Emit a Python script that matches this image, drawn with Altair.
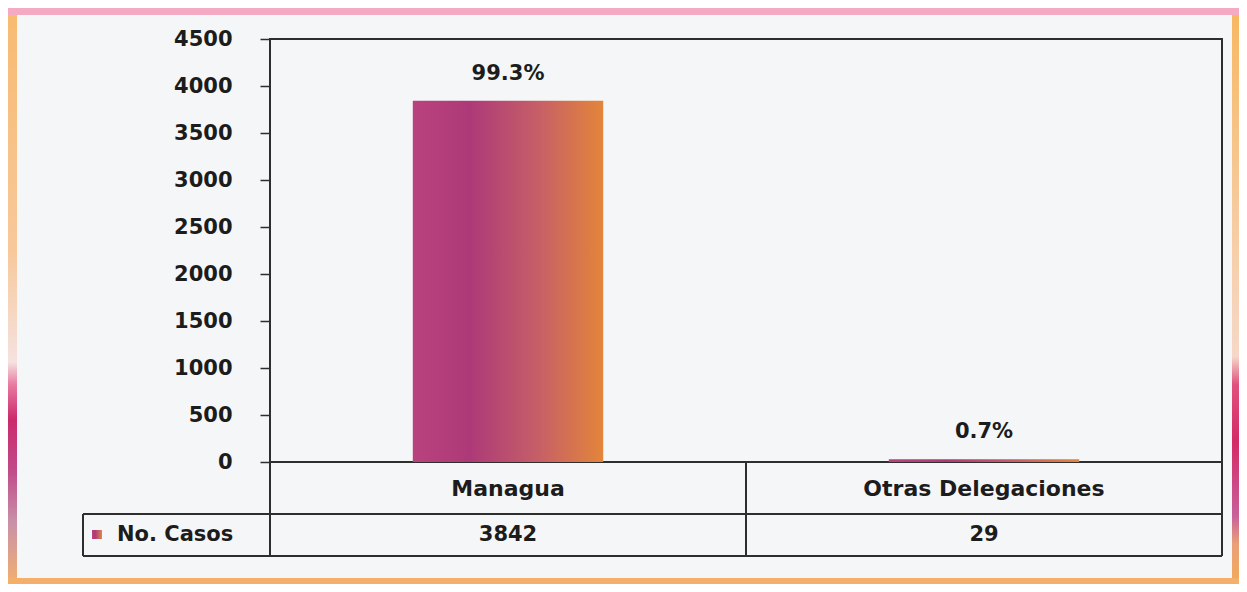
import altair as alt
import pandas as pd

# ---- data ----
categories = ["Managua", "Otras Delegaciones"]
casos = [3842, 29]
porcentajes = ["99.3%", "0.7%"]
series_name = ["No. Casos"]
y_ticks = [0, 500, 1000, 1500, 2000, 2500, 3000, 3500, 4000, 4500]

df = pd.DataFrame({"cat": categories, "casos": casos, "pct": porcentajes})
one = pd.DataFrame({"k": [0]})
name_df = pd.DataFrame({"name": series_name})

W, H = 952, 423
FONT = "DejaVu Sans"
TXT = "#1c1c1c"
LINE = "#2e2e2e"

bar_grad = alt.Gradient(
    gradient="linear",
    stops=[
        alt.GradientStop(offset=0, color="#b9427e"),
        alt.GradientStop(offset=0.3, color="#ad3a78"),
        alt.GradientStop(offset=0.65, color="#c55e68"),
        alt.GradientStop(offset=1, color="#e3853a"),
    ],
    x1=0, x2=1, y1=0, y2=0,
)

x = alt.X(
    "cat:N",
    sort=categories,
    scale=alt.Scale(domain=categories, paddingInner=0, paddingOuter=0),
    axis=None,
)
y = alt.Y(
    "casos:Q",
    scale=alt.Scale(domain=[0, 4500], nice=False, zero=True),
    axis=alt.Axis(
        values=y_ticks, format="d", title=None, grid=False, domain=False,
        tickSize=10, tickColor=LINE, tickWidth=1.5,
        labelFont=FONT, labelFontWeight="bold", labelFontSize=21,
        labelColor=TXT, labelPadding=28,
    ),
)

base = alt.Chart(df)

bars = base.mark_bar(width=alt.RelativeBandSize(0.4), color=bar_grad).encode(x=x, y=y)

labels = base.mark_text(
    dy=-27, font=FONT, fontWeight="bold", fontSize=21, color=TXT, baseline="middle"
).encode(x=x, y="casos:Q", text="pct:N")

cat_text = base.mark_text(
    font=FONT, fontWeight="bold", fontSize=22, color=TXT, baseline="middle"
).encode(x=x, y=alt.value(450), text="cat:N")

val_text = base.mark_text(
    font=FONT, fontWeight="bold", fontSize=21, color=TXT, baseline="middle"
).encode(x=x, y=alt.value(496), text="casos:Q")

name_text = alt.Chart(name_df).mark_text(
    font=FONT, fontWeight="bold", fontSize=21, color=TXT, baseline="middle", align="left"
).encode(x=alt.value(-153), y=alt.value(496), text="name:N")

key = alt.Chart(one).mark_rect(color=bar_grad).encode(
    x=alt.value(-178), x2=alt.value(-168), y=alt.value(491), y2=alt.value(500)
)

def hrule(x1, x2, yv):
    return alt.Chart(one).mark_rule(color=LINE, strokeWidth=2).encode(
        x=alt.value(x1), x2=alt.value(x2), y=alt.value(yv)
    )

def vrule(xv, y1, y2):
    return alt.Chart(one).mark_rule(color=LINE, strokeWidth=2).encode(
        x=alt.value(xv), y=alt.value(y1), y2=alt.value(y2)
    )

divider = alt.Chart(pd.DataFrame({"cat": [categories[1]]})).mark_rule(
    color=LINE, strokeWidth=2
).encode(
    x=alt.X("cat:N", bandPosition=0), y=alt.value(H), y2=alt.value(517)
)

lines = [
    hrule(-187, W, 475),
    hrule(-187, W, 517),
    vrule(-187, 475, 517),
    vrule(0, 0, 517),
    vrule(W, 0, 517),
]

# decorative frame
def band(x1, x2, y1, y2, fill):
    return alt.Chart(one).mark_rect(color=fill).encode(
        x=alt.value(x1), x2=alt.value(x2), y=alt.value(y1), y2=alt.value(y2)
    )

left_grad = alt.Gradient(
    gradient="linear",
    stops=[
        alt.GradientStop(offset=0, color="#f7bb72"),
        alt.GradientStop(offset=0.41, color="#f7c89a"),
        alt.GradientStop(offset=0.61, color="#f5e2e0"),
        alt.GradientStop(offset=0.65, color="#e77aa0"),
        alt.GradientStop(offset=0.71, color="#cc2a6c"),
        alt.GradientStop(offset=0.8, color="#c04a8a"),
        alt.GradientStop(offset=0.89, color="#c890a8"),
        alt.GradientStop(offset=1, color="#f2b070"),
    ],
    x1=0, x2=0, y1=0, y2=1,
)
right_grad = alt.Gradient(
    gradient="linear",
    stops=[
        alt.GradientStop(offset=0, color="#f7b864"),
        alt.GradientStop(offset=0.6, color="#f6d8c8"),
        alt.GradientStop(offset=0.65, color="#e0507e"),
        alt.GradientStop(offset=0.75, color="#d42a66"),
        alt.GradientStop(offset=0.88, color="#c8609a"),
        alt.GradientStop(offset=0.93, color="#eaa078"),
        alt.GradientStop(offset=1, color="#f2aa5a"),
    ],
    x1=0, x2=0, y1=0, y2=1,
)

frame = [
    band(-262, 969, -31, -24, "#f3aac2"),
    band(-262, -253, -24, 545, left_grad),
    band(962, 969, -24, 545, right_grad),
    band(-262, 969, 539, 545, "#f4b06a"),
]

chart = alt.layer(
    *frame, bars, labels, cat_text, val_text, name_text, key, divider, *lines
).properties(
    width=W,
    height=H,
    autosize=alt.AutoSizeParams(type="none"),
    padding={"left": 262, "top": 31, "right": 17, "bottom": 122},
).configure(
    background="#f5f6f7"
).configure_view(
    stroke=LINE, strokeWidth=2
)

chart.save("out.html", embed_options={"renderer": "svg", "actions": False})
